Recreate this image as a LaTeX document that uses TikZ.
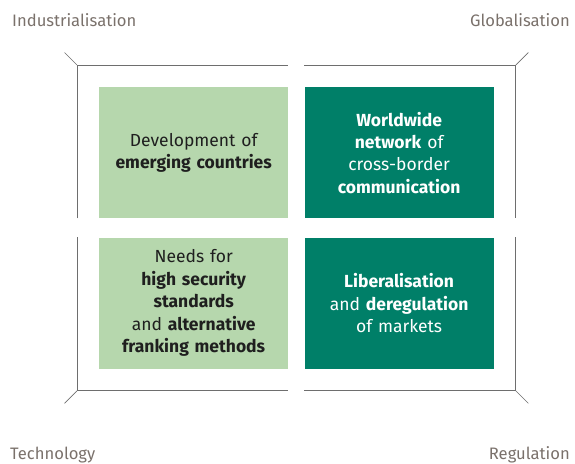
\documentclass[tikz,border=0pt]{standalone}
\usepackage{fontspec}
\setmainfont{Fira Sans}
\usepackage{tikz}
\usetikzlibrary{positioning,calc}
\definecolor{fpgreen}{HTML}{007F68}
\definecolor{fplight}{HTML}{B6D7AD}
\definecolor{fpgrey}{HTML}{7A716B}
\definecolor{fpframe}{HTML}{6E6E6E}

\begin{document}
\begin{tikzpicture}[x=1pt,y=1pt,
  node distance=19pt and 16pt,
  quad/.style={minimum width=189pt,minimum height=131pt,inner sep=0pt,
    text width=180pt,align=center,font=\fontsize{17.5}{22.4}\selectfont},
  lightq/.style={quad,fill=fplight,text=black!88},
  darkq/.style={quad,fill=fpgreen,text=white},
  frame/.style={fpframe,line width=1pt},
  tick/.style={fpframe,line width=0.7pt},
  axis/.style={fpgrey,font=\fontsize{16.6}{21}\selectfont,inner sep=0pt}]
\useasboundingbox (0,0) rectangle (575,-463);
\node[lightq,anchor=north west] (dev) at (99,-87) {Development of\\\textbf{emerging countries}};
\node[darkq,right=of dev] (net) {\textbf{Worldwide}\\\textbf{network} of\\cross-border\\\textbf{communication}};
\node[lightq,below=of dev] (sec) {Needs for\\\textbf{high security}\\\textbf{standards}\\and \textbf{alternative}\\\textbf{franking methods}};
\node[darkq,below=of net] (lib) {\textbf{Liberalisation}\\and \textbf{deregulation}\\of markets};
\coordinate (ctl) at ($(dev.north west)+(-22,22)$);
\coordinate (ctr) at ($(net.north east)+(22,22)$);
\coordinate (cbl) at ($(sec.south west)+(-22,-22)$);
\coordinate (cbr) at ($(lib.south east)+(22,-22)$);
\draw[frame] (dev.south west -| ctl) -- (ctl) -- (dev.north east |- ctl);
\draw[frame] (net.north west |- ctr) -- (ctr) -- (net.south east -| ctr);
\draw[frame] (sec.north west -| cbl) -- (cbl) -- (sec.south east |- cbl);
\draw[frame] (lib.south west |- cbr) -- (cbr) -- (lib.north east -| cbr);
\draw[tick] (ctl) -- ++(-12.5,12.5);
\draw[tick] (ctr) -- ++(12.5,12.5);
\draw[tick] (cbl) -- ++(-12.5,-12.5);
\draw[tick] (cbr) -- ++(12.5,-12.5);
\node[axis,anchor=base west] (ind) at (12,-27) {Industrialisation};
\node[axis,anchor=base east] (glo) at (570,-27) {Globalisation};
\node[axis,anchor=base west] (tec) at (10,-459) {Technology};
\node[axis,anchor=base east] (reg) at (570,-459) {Regulation};
\end{tikzpicture}
\end{document}
